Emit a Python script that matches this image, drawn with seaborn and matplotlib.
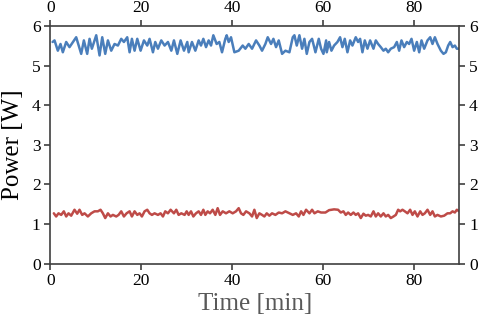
import numpy as np
import pandas as pd
import matplotlib
matplotlib.use("Agg")
import matplotlib.pyplot as plt
import seaborn as sns

# values (time in minutes, power in watts)
time_high = [0.5, 0.92, 1.65, 2.24, 2.75, 3.49, 4.22, 5.69, 6.79, 7.38, 8.11, 8.63, 9.14, 10.1,
             10.83, 11.42, 12.08, 12.67, 13.4, 14.13, 14.87, 15.6, 16.19, 16.92, 17.44, 17.95,
             18.54, 19.13, 19.86, 20.6, 21.33, 21.84, 22.58, 23.09, 23.68, 24.41, 25.15, 25.88,
             26.62, 27.2, 27.94, 28.67, 29.41, 30.14, 30.44, 31.17, 31.91, 32.64, 33.15, 33.67,
             34.26, 34.84, 35.36, 35.87, 36.6, 37.19, 37.78, 38.51, 38.81, 39.25, 39.76, 40.5,
             41.45, 42.33, 42.92, 43.65, 44.39, 45.27, 46.0, 46.59, 47.32, 47.84, 48.57, 49.09,
             49.67, 50.26, 51.0, 51.73, 52.61, 53.35, 53.71, 54.23, 54.81, 55.4, 55.91, 56.43,
             57.02, 57.6, 58.34, 59.07, 59.58, 60.1, 60.69, 60.83, 61.34, 61.86, 62.44, 63.18,
             63.76, 64.28, 64.79, 65.38, 65.97, 66.48, 67.21, 67.73, 68.17, 68.68, 69.2, 69.79,
             70.37, 71.11, 71.62, 72.13, 72.72, 73.31, 73.82, 74.34, 74.92, 75.66, 76.25, 76.76,
             77.27, 77.86, 78.45, 78.96, 79.48, 80.06, 80.65, 81.17, 81.68, 82.27, 83.0, 83.59,
             84.1, 84.62, 85.2, 85.94, 86.52, 87.04, 87.55, 88.0, 88.51, 89.02, 89.46, 89.98]
power_high = [5.60, 5.64, 5.38, 5.55, 5.34, 5.60, 5.47, 5.72, 5.30, 5.64, 5.30, 5.68, 5.43, 5.77,
              5.26, 5.72, 5.30, 5.64, 5.38, 5.55, 5.51, 5.68, 5.60, 5.72, 5.34, 5.68,
              5.38, 5.68, 5.38, 5.64, 5.51, 5.68, 5.34, 5.60, 5.43, 5.64, 5.51, 5.60,
              5.38, 5.64, 5.30, 5.64, 5.38, 5.60, 5.34, 5.60, 5.38, 5.64, 5.51, 5.68,
              5.47, 5.64, 5.51, 5.77, 5.55, 5.60, 5.34, 5.68, 5.77, 5.60, 5.72, 5.34,
              5.38, 5.51, 5.43, 5.55, 5.43, 5.64, 5.51, 5.38, 5.55, 5.72, 5.55, 5.68,
              5.47, 5.64, 5.30, 5.38, 5.34, 5.72, 5.77, 5.51, 5.77, 5.43, 5.68, 5.30,
              5.60, 5.68, 5.34, 5.68, 5.43, 5.30, 5.64, 5.34, 5.60, 5.38, 5.51, 5.60,
              5.72, 5.47, 5.68, 5.34, 5.64, 5.51, 5.72, 5.60, 5.68, 5.34, 5.64, 5.43,
              5.64, 5.43, 5.64, 5.55, 5.47, 5.38, 5.43, 5.34, 5.43, 5.47, 5.60, 5.38,
              5.64, 5.47, 5.60, 5.55, 5.68, 5.38, 5.60, 5.34, 5.64, 5.43, 5.64, 5.72,
              5.55, 5.72, 5.55, 5.38, 5.30, 5.34, 5.51, 5.60, 5.47, 5.51, 5.43, 5.43]

time_low = [0.77, 1.28, 1.8, 2.39, 2.97, 3.49, 4.0, 4.59, 5.32, 5.91, 6.42, 7.01, 7.53, 8.26,
            8.99, 9.73, 10.46, 11.05, 11.56, 12.08, 12.67, 13.25, 13.77, 14.5, 15.02, 15.6,
            16.19, 16.78, 17.44, 17.95, 18.54, 19.13, 19.64, 20.15, 20.74, 21.33, 21.84, 22.36,
            22.94, 23.68, 24.26, 24.78, 25.29, 25.88, 26.47, 27.2, 27.72, 28.23, 28.82, 29.55,
            30.0, 30.44, 30.95, 31.47, 32.05, 32.64, 33.15, 33.67, 34.11, 34.62, 35.14, 35.72,
            36.31, 36.82, 37.34, 37.93, 38.66, 39.39, 40.13, 40.86, 41.45, 41.96, 42.48, 43.07,
            43.8, 44.39, 44.9, 45.42, 46.0, 46.59, 47.1, 47.62, 48.2, 48.79, 49.53, 50.26,
            51.0, 51.73, 52.61, 53.35, 54.08, 54.67, 55.18, 55.7, 56.28, 57.02, 57.6, 58.12,
            58.85, 59.58, 60.54, 61.34, 62.44, 63.32, 63.91, 64.5, 65.01, 65.53, 66.11, 66.7,
            67.21, 67.73, 68.32, 68.9, 69.42, 69.93, 70.52, 71.11, 71.62, 72.13, 72.72, 73.31,
            73.82, 74.34, 74.92, 75.51, 76.03, 76.54, 76.98, 77.49, 78.01, 78.6, 79.18, 79.7,
            80.21, 80.8, 81.39, 81.9, 82.41, 83.0, 83.59, 84.1, 84.62, 85.2, 85.94, 86.67,
            87.4, 87.99, 88.51, 89.02, 89.46, 89.98]
power_low = [1.27, 1.19, 1.27, 1.23, 1.32, 1.19, 1.27, 1.21, 1.36, 1.26, 1.36, 1.23, 1.27, 1.19,
             1.27, 1.32, 1.32, 1.36, 1.27, 1.15, 1.27, 1.19, 1.23, 1.19, 1.23, 1.32,
             1.19, 1.27, 1.32, 1.19, 1.32, 1.23, 1.27, 1.19, 1.32, 1.36, 1.27, 1.23,
             1.27, 1.23, 1.27, 1.19, 1.32, 1.27, 1.36, 1.27, 1.36, 1.23, 1.27, 1.23,
             1.32, 1.23, 1.32, 1.19, 1.27, 1.32, 1.23, 1.36, 1.23, 1.32, 1.27, 1.36,
             1.23, 1.40, 1.23, 1.32, 1.27, 1.32, 1.27, 1.32, 1.40, 1.27, 1.23, 1.32,
             1.27, 1.19, 1.36, 1.15, 1.27, 1.23, 1.19, 1.27, 1.21, 1.27, 1.23, 1.29,
             1.27, 1.32, 1.27, 1.23, 1.27, 1.19, 1.32, 1.23, 1.36, 1.27, 1.36, 1.27,
             1.32, 1.29, 1.29, 1.35, 1.37, 1.36, 1.29, 1.32, 1.23, 1.29, 1.23, 1.29,
             1.23, 1.27, 1.15, 1.26, 1.21, 1.23, 1.19, 1.32, 1.19, 1.27, 1.19, 1.27,
             1.19, 1.23, 1.15, 1.19, 1.23, 1.36, 1.32, 1.36, 1.32, 1.27, 1.36, 1.23,
             1.32, 1.19, 1.32, 1.23, 1.27, 1.36, 1.23, 1.32, 1.19, 1.23, 1.19, 1.21,
             1.27, 1.27, 1.32, 1.29, 1.36, 1.32]

x_ticks = [0, 20, 40, 60, 80]
y_ticks = [0, 1, 2, 3, 4, 5, 6]


def main():
    sns.set_style("ticks")
    plt.rcParams['font.family'] = ['Liberation Serif', 'DejaVu Serif']

    fig = plt.figure(figsize=(4.84, 3.27), dpi=100)
    ax = fig.add_axes([0.104, 0.194, 0.845, 0.726])

    high = pd.DataFrame({'time': time_high, 'power': power_high})
    low = pd.DataFrame({'time': time_low, 'power': power_low})
    line_kw = dict(linewidth=1.8, estimator=None, sort=False, ax=ax,
                   solid_joinstyle='round', solid_capstyle='round')
    sns.lineplot(data=high, x='time', y='power', color='#4a7ebb', **line_kw)
    sns.lineplot(data=low, x='time', y='power', color='#be4b48', **line_kw)

    ax.set_xlim(0, 90)
    ax.set_ylim(0, 6)
    ax.set_xticks(x_ticks)
    ax.set_yticks(y_ticks)

    for side in ['top', 'bottom', 'left', 'right']:
        ax.spines[side].set_visible(True)
        ax.spines[side].set_color('#404040')
        ax.spines[side].set_linewidth(1.2)

    ax.tick_params(axis='both', which='both', direction='out', length=4, width=1.2,
                   color='#404040', labelsize=12.5, labelcolor='black',
                   top=True, right=True, labeltop=True, labelright=True, pad=3)

    ax.set_xlabel('Time [min]', fontsize=18, color='#595959', labelpad=3)
    ax.set_ylabel('Power [W]', fontsize=18, color='black', labelpad=6)

    fig.savefig('out.png', dpi=100)
    plt.close(fig)


if __name__ == "__main__":
    main()
